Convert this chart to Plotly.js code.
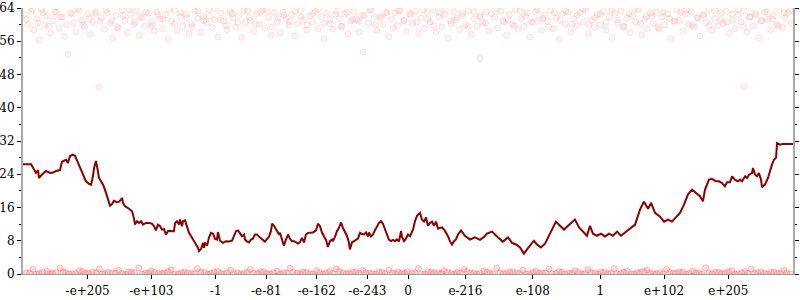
<!DOCTYPE html>
<html>
<head>
<meta charset="utf-8">
<script src="https://cdn.plot.ly/plotly-3.0.1.min.js"></script>
<style>html,body{margin:0;padding:0;background:#fff;}#chart{width:800px;height:300px;}</style>
</head>
<body>
<div id="chart"></div>
<script>
// x unit: signed position in the double bit pattern, (biased exponent + mantissa fraction), sign = sign bit
const tickVals = [-1704, -1365.2, -1023, -753.9, -484.9, -215.8, 0, 305.5, 664.2, 1023, 1361.8, 1704];
const tickText = ["-e+205", "-e+103", "-1", "-e-81", "-e-162", "-e-243", "0", "e-216", "e-108", "1", "e+102", "e+205"];
const yTicks = [0, 8, 16, 24, 32, 40, 48, 56, 64];

const lineX = [-2048,-2005,-1979,-1968,-1963,-1952,-1926,-1915,-1904,-1888,-1872,-1851,-1841,-1819,-1809,-1798,-1782,-1771,-1755,-1745,-1734,-1724,-1713,-1697,-1686,-1676,-1670,-1660,-1654,-1649,-1644,-1633,-1622,-1612,-1601,-1585,-1575,-1564,-1548,-1537,-1527,-1521,-1516,-1505,-1484,-1468,-1458,-1452,-1442,-1431,-1420,-1410,-1394,-1378,-1362,-1351,-1341,-1330,-1319,-1309,-1298,-1287,-1277,-1266,-1255,-1245,-1239,-1229,-1218,-1213,-1202,-1197,-1186,-1176,-1165,-1149,-1138,-1128,-1117,-1112,-1101,-1090,-1085,-1080,-1069,-1059,-1048,-1037,-1027,-1016,-1011,-1000,-984,-968,-952,-936,-926,-915,-904,-894,-883,-872,-867,-856,-846,-835,-825,-814,-803,-793,-782,-771,-761,-750,-739,-729,-723,-713,-702,-697,-686,-681,-670,-660,-649,-638,-628,-617,-606,-596,-585,-575,-564,-553,-543,-532,-521,-505,-489,-479,-468,-457,-447,-436,-426,-415,-404,-399,-388,-378,-367,-356,-346,-335,-324,-314,-309,-298,-287,-277,-266,-255,-245,-234,-223,-213,-207,-197,-186,-176,-165,-154,-144,-133,-122,-112,-101,-90,-80,-69,-59,-48,-37,-32,-21,-11,0,11,27,37,48,64,74,85,96,106,117,128,138,149,160,170,181,192,202,213,223,234,245,255,266,282,303,330,356,383,404,420,447,463,479,505,532,553,575,596,617,633,649,670,686,707,729,750,771,787,809,830,851,872,888,910,931,952,968,984,1005,1027,1048,1069,1090,1112,1133,1154,1176,1208,1234,1255,1277,1293,1314,1341,1362,1383,1404,1426,1447,1468,1489,1511,1532,1553,1569,1580,1601,1617,1638,1654,1670,1686,1697,1713,1724,1739,1755,1766,1777,1793,1803,1814,1830,1835,1846,1857,1867,1878,1883,1899,1915,1926,1936,1947,1958,1963,1979,1995,2016,2048];
const lineY = [26.4,26.4,24.3,25.0,23.1,23.7,24.8,24.6,24.3,24.4,24.8,25.0,27.0,27.5,26.7,28.4,28.7,28.4,26.7,25.5,24.3,23.5,22.3,21.7,21.5,23.5,25.5,27.2,26.0,24.6,23.1,22.4,21.5,20.3,18.7,16.4,16.8,17.6,17.3,17.4,17.9,18.3,17.1,16.3,15.7,15.1,13.5,11.9,12.7,12.3,12.7,11.9,12.3,12.3,12.1,11.5,10.5,11.9,11.5,10.7,10.8,9.5,10.3,10.4,10.3,10.3,12.3,12.7,11.9,13.1,11.5,12.7,12.9,11.5,9.9,8.7,7.9,7.2,6.3,5.5,6.0,7.5,6.3,7.6,6.8,8.7,9.9,9.7,8.5,8.3,10.1,8.0,7.5,7.9,7.8,8.0,9.1,10.3,10.5,9.9,9.1,9.5,8.3,7.8,7.6,8.3,8.5,9.5,9.5,9.0,8.5,8.2,7.8,8.5,9.0,10.3,12.1,11.6,10.8,10.3,9.5,9.9,8.5,6.8,8.3,9.5,8.5,7.9,7.9,7.6,7.3,7.6,8.7,7.6,9.5,9.9,10.0,10.0,10.5,12.1,11.5,9.9,9.1,8.2,6.5,7.9,8.3,7.9,9.0,10.3,11.1,12.4,11.1,10.0,9.1,7.5,5.9,7.6,7.9,8.2,8.5,9.9,9.6,9.5,10.0,9.0,10.0,9.0,9.5,10.5,11.5,12.3,12.7,12.1,10.7,9.3,8.2,7.9,8.2,7.9,8.3,7.8,10.3,8.9,7.9,8.5,9.5,9.1,10.7,12.7,14.0,14.7,13.1,12.6,13.6,11.6,12.3,12.6,11.6,12.6,10.9,11.1,11.2,10.7,9.9,9.1,7.9,7.1,7.9,8.3,9.5,10.5,9.2,8.3,8.8,8.2,8.9,9.7,10.2,9.4,8.8,7.8,8.8,7.5,7.1,6.4,4.9,5.9,6.8,8.0,7.1,6.4,7.3,9.2,11.2,12.6,11.6,10.7,11.6,12.6,13.1,11.2,10.2,9.2,11.6,9.7,9.2,9.7,9.0,9.7,9.2,10.2,9.2,9.9,10.7,11.9,15.5,17.4,15.7,17.1,14.7,13.8,12.6,13.1,12.6,13.6,14.7,16.7,19.1,20.3,19.5,18.7,17.5,20.3,22.7,22.9,22.3,22.3,21.9,21.1,22.1,22.1,23.5,22.7,22.3,22.7,22.3,23.5,23.1,23.9,24.3,25.5,23.9,23.5,24.3,22.7,20.9,21.5,23.1,25.1,26.3,27.5,28.0,31.5,31.1,31.3,31.3,31.3];

const topX = [-2040,-2020,-2005,-1990,-1975,-1962,-1950,-1933,-1920,-1901,-1888,-1870,-1856,-1840,-1827,-1809,-1795,-1780,-1766,-1751,-1737,-1720,-1705,-1690,-1676,-1660,-1644,-1630,-1615,-1600,-1583,-1570,-1552,-1540,-1521,-1505,-1492,-1476,-1460,-1445,-1430,-1412,-1399,-1381,-1366,-1350,-1336,-1320,-1305,-1290,-1275,-1259,-1243,-1228,-1212,-1198,-1180,-1165,-1150,-1134,-1118,-1103,-1089,-1072,-1058,-1041,-1027,-1010,-995,-980,-963,-948,-931,-917,-900,-885,-868,-852,-838,-821,-806,-790,-774,-760,-743,-728,-711,-696,-680,-664,-650,-633,-619,-602,-588,-571,-556,-540,-523,-509,-492,-478,-461,-446,-430,-414,-399,-383,-367,-352,-336,-320,-305,-289,-273,-259,-242,-239,-210,-196,-180,-164,-149,-133,-118,-101,-86,-70,-55,-39,-24,-8,8,25,40,56,71,87,102,118,134,149,165,180,196,212,227,243,258,274,290,305,321,336,352,368,383,383,399,414,430,462,477,493,509,524,540,555,571,586,602,618,633,649,664,680,696,711,727,742,758,773,789,805,820,836,852,867,883,898,914,930,945,961,977,992,1008,1023,1039,1055,1070,1086,1101,1117,1133,1148,1164,1180,1195,1211,1226,1242,1258,1273,1289,1305,1320,1336,1351,1367,1383,1398,1414,1429,1445,1461,1476,1492,1507,1523,1538,1554,1570,1585,1601,1617,1632,1648,1663,1679,1694,1710,1726,1741,1757,1772,1787,1788,1803,1819,1835,1850,1866,1882,1897,1913,1929,1944,1960,1975,1991,2006,2022,2040];
const topY = [62.5,60.1,63.2,58.7,61.4,56.3,63.6,59.8,62.1,57.9,60.9,63.0,59.2,61.8,57.2,52.9,62.8,60.4,58.3,63.4,61.1,59.5,62.6,57.6,60.7,63.1,45.0,61.6,58.9,62.9,60.3,56.8,62.2,59.1,63.5,61.0,58.1,62.4,60.0,63.3,57.4,61.7,59.6,62.7,60.6,58.5,63.0,61.3,59.0,62.3,56.5,60.8,63.4,58.6,61.9,59.7,62.5,57.8,60.2,63.2,61.5,58.2,62.0,60.5,63.6,59.3,61.2,57.0,62.8,60.9,58.8,63.1,61.6,59.4,62.2,56.9,60.4,63.3,61.0,58.4,62.6,60.1,63.5,59.2,61.8,57.5,62.9,60.7,58.0,63.0,61.4,59.9,62.4,57.3,60.3,63.4,61.1,58.7,62.1,60.6,63.2,59.0,61.9,56.6,62.7,60.2,58.9,63.3,61.5,59.6,62.5,57.7,60.8,63.1,61.2,58.3,62.3,53.4,60.4,63.5,61.7,58.6,62.0,60.0,63.0,57.1,61.3,62.8,59.8,63.4,61.0,58.4,62.6,60.3,63.2,57.9,61.6,59.1,62.9,60.6,63.5,58.2,61.9,59.4,62.4,56.7,60.9,63.1,61.1,58.8,62.7,60.0,63.4,57.6,61.4,59.7,62.2,51.8,60.4,63.0,58.5,61.8,59.2,63.3,60.7,57.4,62.5,60.1,63.6,58.9,61.5,59.6,62.8,57.0,60.5,63.1,61.2,58.6,62.3,60.8,63.4,59.0,61.7,56.4,62.6,60.2,63.0,58.3,61.4,59.8,62.9,60.6,63.5,57.8,61.1,59.3,62.4,60.0,63.2,58.7,61.9,56.9,62.7,60.4,63.3,59.5,61.6,58.1,62.1,60.7,63.6,57.5,61.3,59.1,62.8,60.3,63.0,58.9,61.8,59.9,62.5,56.6,60.8,63.4,61.0,58.4,62.6,60.1,63.1,59.4,61.7,57.3,62.2,60.5,63.5,58.6,61.5,59.7,62.9,60.2,63.2,57.9,61.2,59.0,62.4,60.6,45.2,63.4,58.2,61.9,59.6,62.7,56.8,60.9,63.0,61.3,58.8,62.1,60.0,63.5,59.3,61.6,62.8,60.4];
const topX2 = [-2030,-1998,-1968,-1941,-1910,-1879,-1848,-1817,-1786,-1758,-1727,-1696,-1665,-1637,-1606,-1575,-1546,-1514,-1484,-1453,-1424,-1393,-1361,-1331,-1302,-1270,-1240,-1210,-1178,-1149,-1118,-1087,-1057,-1026,-996,-966,-935,-905,-874,-844,-812,-783,-752,-722,-690,-660,-630,-600,-568,-538,-508,-477,-447,-416,-386,-355,-325,-294,-264,-233,-203,-172,-142,-111,-81,-50,-20,15,46,77,107,138,168,199,229,260,290,321,351,382,412,443,473,504,534,565,596,626,657,687,718,748,779,809,840,870,901,931,962,993,1023,1054,1084,1115,1145,1176,1206,1237,1267,1298,1328,1359,1390,1420,1451,1481,1512,1542,1573,1603,1634,1664,1695,1725,1756,1787,1817,1848,1878,1909,1939,1970,2000,2031];
const topY2 = [61.2,63.7,60.4,62.9,59.6,63.1,61.8,60.0,62.5,63.8,59.9,61.4,62.7,60.8,63.5,61.0,59.3,62.2,63.6,60.6,61.9,63.0,59.8,62.4,61.3,63.7,60.2,62.8,61.6,59.5,63.3,60.9,62.0,63.8,61.1,59.7,62.6,60.5,63.4,61.7,60.1,62.9,63.6,59.4,61.5,62.3,60.7,63.2,61.9,59.9,62.7,63.7,60.3,61.2,62.5,59.6,63.0,61.4,60.8,62.1,63.5,60.0,61.7,62.8,59.2,63.3,61.0,62.4,60.6,63.5,61.3,59.8,62.9,63.7,60.2,61.6,62.2,59.5,63.1,61.8,60.4,62.6,63.8,60.9,61.2,59.7,63.3,62.0,60.7,63.6,61.5,59.4,62.8,61.0,63.2,60.1,62.3,63.7,59.9,61.7,62.5,60.5,63.4,61.1,59.6,62.7,63.8,60.3,61.9,62.1,59.3,63.0,61.4,60.8,62.9,63.5,60.0,61.6,62.4,59.8,63.3,61.2,60.6,62.6,63.6,59.5,61.8,62.2,60.9,63.1,61.3,59.7,62.8,63.4];

const botX = [-2030,-1995,-1962,-1921,-1890,-1851,-1822,-1785,-1748,-1716,-1679,-1641,-1612,-1574,-1540,-1503,-1471,-1432,-1399,-1366,-1328,-1295,-1260,-1224,-1189,-1153,-1120,-1082,-1049,-1013,-978,-944,-907,-872,-839,-801,-768,-733,-697,-662,-628,-591,-558,-522,-487,-452,-417,-382,-346,-312,-278,-241,-207,-172,-138,-101,-67,-33,-4,21,55,90,124,160,193,229,262,298,333,367,403,437,472,507,541,577,611,646,681,715,750,786,819,855,889,924,958,994,1028,1063,1097,1132,1167,1202,1236,1271,1305,1341,1375,1410,1444,1479,1514,1548,1583,1618,1652,1688,1722,1757,1791,1826,1860,1896,1930,1965,1999,2034];
const botY = [0.3,1.1,0.1,0.6,0.2,1.4,0.4,0.0,0.8,0.2,0.5,1.2,0.1,0.3,0.9,0.0,0.4,1.5,0.2,0.7,0.1,0.3,1.0,0.0,0.5,0.2,1.3,0.4,0.1,0.6,0.0,0.9,0.3,0.2,1.1,0.1,0.5,0.0,0.7,0.3,1.4,0.2,0.4,0.1,0.8,0.0,0.6,1.2,0.3,0.1,0.5,0.9,0.2,0.0,0.4,1.0,0.1,0.3,0.6,0.2,1.3,0.0,0.5,0.3,0.8,0.1,0.4,1.1,0.2,0.0,0.7,0.3,1.4,0.1,0.5,0.2,0.9,0.0,0.6,0.3,1.2,0.1,0.4,0.2,0.8,0.0,1.0,0.3,0.5,0.1,1.3,0.2,0.6,0.0,0.4,0.9,0.1,0.3,1.1,0.2,0.5,0.0,0.7,0.3,1.5,0.1,0.4,0.2,0.8,0.0,0.6,1.2,0.3,0.1,0.5,0.2,0.9,0.0];
const botX2 = [-2013,-1978,-1944,-1905,-1872,-1836,-1803,-1768,-1731,-1699,-1660,-1626,-1595,-1557,-1522,-1487,-1454,-1415,-1382,-1348,-1311,-1278,-1243,-1206,-1172,-1136,-1102,-1065,-1032,-996,-961,-927,-890,-855,-821,-784,-751,-716,-680,-645,-611,-574,-541,-505,-470,-435,-400,-365,-329,-295,-261,-224,-190,-155,-121,-84,-50,-17,38,72,107,141,177,210,246,279,315,350,384,420,454,489,524,558,594,628,663,698,732,767,803,836,872,906,941,975,1011,1045,1080,1114,1149,1184,1219,1253,1288,1322,1358,1392,1427,1461,1496,1531,1565,1600,1635,1669,1705,1739,1774,1808,1843,1877,1913,1947,1982,2016];
const botY2 = [0.2,0.0,0.4,0.1,0.3,0.5,0.0,0.2,0.6,0.1,0.3,0.0,0.4,0.2,0.1,0.5,0.3,0.0,0.2,0.4,0.1,0.6,0.0,0.3,0.2,0.1,0.4,0.0,0.5,0.2,0.3,0.1,0.0,0.4,0.2,0.6,0.1,0.3,0.0,0.2,0.5,0.1,0.4,0.0,0.3,0.2,0.1,0.6,0.0,0.4,0.2,0.3,0.1,0.5,0.0,0.2,0.4,0.1,0.3,0.0,0.5,0.2,0.1,0.4,0.0,0.3,0.6,0.2,0.1,0.4,0.0,0.3,0.2,0.5,0.1,0.0,0.4,0.2,0.3,0.1,0.6,0.0,0.2,0.4,0.1,0.3,0.0,0.5,0.2,0.1,0.4,0.0,0.3,0.6,0.2,0.1,0.0,0.4,0.2,0.5,0.1,0.3,0.0,0.2,0.4,0.1,0.6,0.0,0.3,0.2,0.1,0.5,0.0,0.4,0.2,0.3];

const topMarker = {size: 6, color: 'rgba(255,0,0,0.045)', line: {color: 'rgba(255,0,0,0.1)', width: 1}};
const botMarker = {size: 6, color: 'rgba(255,0,0,0.12)', line: {color: 'rgba(255,0,0,0.22)', width: 1}};
const traces = [
  {x: topX, y: topY, type: 'scatter', mode: 'markers', marker: topMarker, hoverinfo: 'skip'},
  {x: topX2, y: topY2, type: 'scatter', mode: 'markers', marker: topMarker, hoverinfo: 'skip'},
  {x: botX, y: botY, type: 'scatter', mode: 'markers', marker: botMarker, hoverinfo: 'skip'},
  {x: botX2, y: botY2, type: 'scatter', mode: 'markers', marker: botMarker, hoverinfo: 'skip'},
  {x: lineX, y: lineY, type: 'scatter', mode: 'lines', line: {color: '#8b0000', width: 2}, hoverinfo: 'skip'}
];

const font = {family: 'DejaVu Serif', size: 12, color: '#000'};
const yRange = [0, 64];
const xRange = [-2048, 2048];
const layout = {
  width: 800, height: 300,
  margin: {l: 23, r: 7, t: 8, b: 26},
  paper_bgcolor: '#fff', plot_bgcolor: '#fff',
  showlegend: false,
  font: font,
  xaxis: {range: xRange, tickvals: tickVals, ticktext: tickText, ticks: 'outside', ticklen: 4, tickcolor: '#000', tickwidth: 1,
          ticklabelstandoff: 2,
          showline: true, linecolor: '#999', linewidth: 1, mirror: false, showgrid: false, zeroline: false, tickfont: font},
  xaxis2: {range: xRange, overlaying: 'x', anchor: 'y', tickvals: tickVals, ticks: 'inside', ticklen: 5, tickcolor: '#000', tickwidth: 1,
          showticklabels: false, showline: false, showgrid: false, zeroline: false},
  xaxis3: {range: xRange, overlaying: 'x', anchor: 'y', side: 'top', showline: true, linecolor: '#aaa', linewidth: 2,
          ticks: '', showticklabels: false, showgrid: false, zeroline: false},
  yaxis: {range: yRange, tickvals: yTicks, ticks: 'outside', ticklen: 4, tickcolor: '#000', tickwidth: 1,
          minor: {dtick: 4, tick0: 0, ticks: 'outside', ticklen: 2, tickcolor: '#000', showgrid: false},
          showline: true, linecolor: '#aaa', linewidth: 2, mirror: 'ticks', showgrid: false, zeroline: false, tickfont: font},
  yaxis2: {range: yRange, overlaying: 'y', anchor: 'x', side: 'left', tickvals: yTicks, ticks: 'inside', ticklen: 3, tickcolor: '#000', tickwidth: 1,
          minor: {dtick: 4, tick0: 0, ticks: 'inside', ticklen: 2, tickcolor: '#000', showgrid: false},
          mirror: 'ticks', showline: false, showticklabels: false, showgrid: false, zeroline: false},
  yaxis3: {range: yRange, overlaying: 'y', anchor: 'free', position: 0.5, side: 'left', tickvals: yTicks, ticks: 'outside', ticklen: 6, tickcolor: '#000', tickwidth: 1,
          minor: {dtick: 4, tick0: 0, ticks: 'outside', ticklen: 3, tickcolor: '#000', showgrid: false},
          showline: true, linecolor: '#666', linewidth: 1, showticklabels: false, showgrid: false, zeroline: false},
  yaxis4: {range: yRange, overlaying: 'y', anchor: 'free', position: 0.5, side: 'left', tickvals: yTicks, ticks: 'inside', ticklen: 5, tickcolor: '#000', tickwidth: 1,
          minor: {dtick: 4, tick0: 0, ticks: 'inside', ticklen: 3, tickcolor: '#000', showgrid: false},
          showline: false, showticklabels: false, showgrid: false, zeroline: false}
};

Plotly.newPlot('chart', traces, layout, {staticPlot: true, displayModeBar: false});
</script>
</body>
</html>
